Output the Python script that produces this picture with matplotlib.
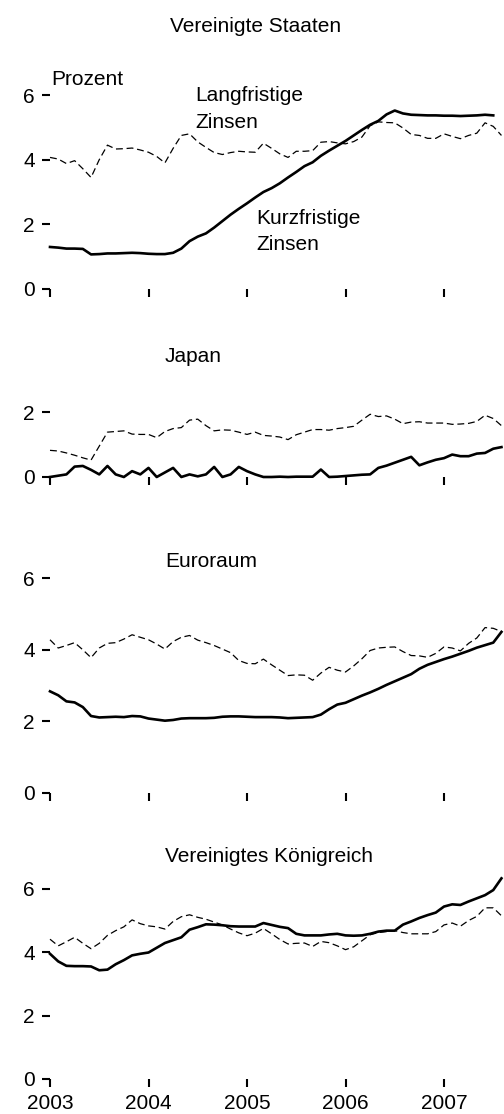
import numpy as np
import matplotlib
matplotlib.use("Agg")
from matplotlib import pyplot as plt
from matplotlib import font_manager

# monthly data, Jan 2003 onwards
us_short = [1.30, 1.28, 1.25, 1.25, 1.24, 1.07, 1.08, 1.10, 1.10, 1.11, 1.12, 1.11,
            1.09, 1.08, 1.08, 1.12, 1.25, 1.48, 1.62, 1.72, 1.90, 2.10, 2.30, 2.48,
            2.65, 2.83, 3.00, 3.12, 3.27, 3.45, 3.62, 3.80, 3.92, 4.12, 4.28, 4.43,
            4.58, 4.75, 4.92, 5.08, 5.20, 5.40, 5.52, 5.43, 5.39, 5.38, 5.37, 5.37,
            5.36, 5.36, 5.35, 5.36, 5.37, 5.39, 5.37]
us_long = [4.07, 4.02, 3.88, 3.97, 3.72, 3.45, 4.00, 4.45, 4.33, 4.34, 4.36, 4.30,
           4.23, 4.10, 3.90, 4.35, 4.75, 4.80, 4.55, 4.38, 4.22, 4.16, 4.22, 4.26,
           4.24, 4.23, 4.51, 4.35, 4.18, 4.07, 4.26, 4.26, 4.28, 4.54, 4.56, 4.52,
           4.49, 4.56, 4.70, 5.05, 5.17, 5.15, 5.14, 4.98, 4.78, 4.75, 4.66, 4.66,
           4.80, 4.72, 4.65, 4.75, 4.82, 5.14, 5.03, 4.75]

jp_short = [0.00, 0.04, 0.08, 0.32, 0.34, 0.22, 0.08, 0.34, 0.08, 0.00, 0.18, 0.08,
            0.28, 0.00, 0.14, 0.28, 0.00, 0.08, 0.02, 0.08, 0.31, 0.00, 0.08, 0.31,
            0.18, 0.08, 0.00, 0.00, 0.01, 0.00, 0.01, 0.01, 0.01, 0.23, 0.00, 0.01,
            0.03, 0.05, 0.07, 0.08, 0.28, 0.35, 0.44, 0.53, 0.62, 0.36, 0.45, 0.53,
            0.58, 0.69, 0.64, 0.64, 0.72, 0.74, 0.87, 0.92]
jp_long = [0.82, 0.80, 0.74, 0.67, 0.59, 0.52, 0.95, 1.38, 1.40, 1.42, 1.32, 1.31,
           1.31, 1.21, 1.40, 1.49, 1.52, 1.75, 1.78, 1.58, 1.42, 1.45, 1.44, 1.38,
           1.31, 1.38, 1.28, 1.26, 1.23, 1.15, 1.30, 1.38, 1.46, 1.46, 1.44, 1.49,
           1.52, 1.56, 1.75, 1.93, 1.86, 1.88, 1.78, 1.64, 1.69, 1.70, 1.66, 1.66,
           1.66, 1.62, 1.63, 1.65, 1.71, 1.90, 1.80, 1.58]

eu_short = [2.84, 2.73, 2.56, 2.53, 2.40, 2.15, 2.11, 2.12, 2.13, 2.12, 2.15, 2.14,
            2.08, 2.05, 2.02, 2.04, 2.08, 2.09, 2.09, 2.09, 2.10, 2.13, 2.14, 2.14,
            2.13, 2.12, 2.12, 2.12, 2.11, 2.09, 2.10, 2.11, 2.12, 2.19, 2.34, 2.47,
            2.52, 2.62, 2.72, 2.81, 2.91, 3.02, 3.12, 3.22, 3.32, 3.47, 3.58, 3.66,
            3.74, 3.81, 3.89, 3.97, 4.06, 4.13, 4.20, 4.50]
eu_long = [4.28, 4.05, 4.12, 4.20, 4.00, 3.78, 4.05, 4.18, 4.20, 4.30, 4.42, 4.35,
           4.28, 4.16, 4.02, 4.23, 4.35, 4.40, 4.27, 4.20, 4.12, 4.02, 3.92, 3.70,
           3.62, 3.61, 3.74, 3.58, 3.43, 3.28, 3.30, 3.29, 3.15, 3.35, 3.51, 3.43,
           3.38, 3.55, 3.75, 3.98, 4.05, 4.07, 4.08, 3.95, 3.84, 3.83, 3.79, 3.90,
           4.08, 4.05, 3.97, 4.18, 4.33, 4.62, 4.60, 4.51]

uk_short = [3.95, 3.71, 3.57, 3.56, 3.56, 3.55, 3.43, 3.45, 3.62, 3.75, 3.90, 3.95,
            3.99, 4.14, 4.29, 4.38, 4.47, 4.71, 4.79, 4.88, 4.87, 4.85, 4.82, 4.81,
            4.81, 4.81, 4.92, 4.86, 4.80, 4.76, 4.58, 4.53, 4.53, 4.53, 4.56, 4.58,
            4.53, 4.52, 4.53, 4.58, 4.65, 4.68, 4.68, 4.87, 4.97, 5.08, 5.17, 5.25,
            5.44, 5.51, 5.49, 5.60, 5.70, 5.80, 5.96, 6.33]
uk_long = [4.41, 4.20, 4.33, 4.47, 4.28, 4.11, 4.28, 4.53, 4.68, 4.80, 5.02, 4.90,
           4.83, 4.80, 4.73, 4.97, 5.12, 5.18, 5.10, 5.04, 4.95, 4.86, 4.73, 4.61,
           4.52, 4.60, 4.75, 4.58, 4.40, 4.26, 4.28, 4.29, 4.18, 4.34, 4.30, 4.20,
           4.08, 4.17, 4.36, 4.55, 4.62, 4.65, 4.68, 4.62, 4.58, 4.58, 4.58, 4.65,
           4.86, 4.92, 4.82, 5.00, 5.13, 5.40, 5.40, 5.15]

years = [2003, 2004, 2005, 2006, 2007]

names = {f.name for f in font_manager.fontManager.ttflist}
fam = 'Liberation Sans Narrow' if 'Liberation Sans Narrow' in names else 'Liberation Sans'
fs = 16 if fam == 'Liberation Sans Narrow' else 15
plt.rcParams['font.family'] = [fam, 'DejaVu Sans']

W, H = 504, 1114
fig = plt.figure(figsize=(W / 100, H / 100), dpi=100)


def panel(y0, ppu, ytop, yticks, short, long, labels=False):
    # y0: pixel row of the zero line, ppu: pixels per percentage point
    ax = fig.add_axes([50 / W, 1 - y0 / H, 454 / W, ytop * ppu / H])
    ax.set_xlim(2003, 2003 + 454 / 98.5)
    ax.set_ylim(0, ytop)
    for s in ax.spines.values():
        s.set_visible(False)
    ax.patch.set_visible(False)
    ax.set_xticks(years)
    ax.set_yticks(yticks)
    ax.set_yticklabels([str(t) for t in yticks])
    if labels:
        ax.set_xticklabels([str(y) for y in years])
    else:
        ax.set_xticklabels([])
    ax.tick_params(direction='out', length=6, width=1.5, labelsize=fs, pad=5)
    x_long = 2003 + np.arange(len(long)) / 12
    x_short = 2003 + np.arange(len(short)) / 12
    ax.plot(x_long, long, color='black', lw=0.9, ls=(0, (5.5, 3)), clip_on=False)
    ax.plot(x_short, short, color='black', lw=1.9, clip_on=False, zorder=3)
    return ax


panel(289, 32.33, 6.8, [0, 2, 4, 6], us_short, us_long)
panel(477, 32.5, 2.5, [0, 2], jp_short, jp_long)
panel(793, 35.8, 6.5, [0, 2, 4, 6], eu_short, eu_long)
panel(1079, 31.7, 6.6, [0, 2, 4, 6], uk_short, uk_long, labels=True)


def txt(x, y, s):
    fig.text(x / W, 1 - y / H, s, fontsize=fs, ha='left', va='baseline')


txt(170, 32, "Vereinigte Staaten")
txt(165, 362.5, "Japan")
txt(165, 567, "Euroraum")
txt(165, 861.5, "Vereinigtes Königreich")
txt(51.5, 85, "Prozent")
txt(195, 100.5, "Langfristige")
txt(195, 127.5, "Zinsen")
txt(256.5, 224, "Kurzfristige")
txt(256.5, 250.5, "Zinsen")

fig.savefig("out.png", dpi=100)
